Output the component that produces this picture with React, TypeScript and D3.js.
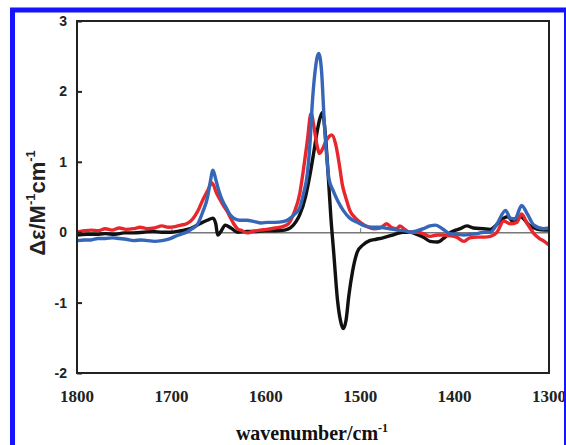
import React, { useEffect, useRef } from "react";
import * as d3 from "d3";

// wavenumber (cm-1) and delta epsilon values
const blackWave = [1800, 1790, 1780, 1770, 1760, 1750, 1740, 1730, 1720, 1710, 1700, 1690, 1680, 1670, 1662, 1656, 1653, 1651, 1648, 1643, 1637, 1630, 1620, 1610, 1600, 1590, 1580, 1574, 1568, 1564, 1558, 1553, 1549, 1546, 1543, 1540, 1537, 1534, 1531, 1528, 1524, 1521, 1518, 1515, 1512, 1508, 1503, 1497, 1490, 1483, 1476, 1468, 1461, 1455, 1447, 1440, 1433, 1426, 1418, 1411, 1404, 1394, 1387, 1380, 1370, 1362, 1356, 1351, 1344, 1337, 1330, 1321, 1312, 1305, 1300];
const blackVal = [-0.04, -0.03, -0.03, -0.02, -0.03, -0.01, -0.01, 0.0, 0.01, 0.0, 0.0, 0.02, 0.05, 0.12, 0.17, 0.2, 0.12, -0.04, 0.0, 0.1, 0.06, 0.0, 0.01, 0.01, 0.02, 0.02, 0.03, 0.06, 0.15, 0.25, 0.5, 0.83, 1.15, 1.4, 1.6, 1.7, 1.4, 0.83, 0.2, -0.3, -0.97, -1.25, -1.37, -1.25, -0.9, -0.55, -0.28, -0.18, -0.12, -0.1, -0.08, -0.05, -0.02, 0.0, 0.0, -0.03, -0.07, -0.13, -0.14, -0.08, 0.0, 0.05, 0.09, 0.06, 0.05, 0.04, 0.1, 0.17, 0.22, 0.14, 0.22, 0.1, 0.04, 0.03, 0.03];

const redWave = [1800, 1792, 1785, 1778, 1770, 1763, 1755, 1748, 1740, 1733, 1726, 1718, 1710, 1703, 1696, 1690, 1684, 1678, 1672, 1667, 1662, 1657, 1652, 1648, 1645, 1641, 1638, 1634, 1630, 1625, 1620, 1614, 1606, 1599, 1590, 1582, 1576, 1570, 1564, 1560, 1556, 1552, 1549, 1546, 1543, 1540, 1536, 1530, 1526, 1522, 1519, 1515, 1511, 1505, 1500, 1493, 1486, 1479, 1472, 1466, 1461, 1458, 1452, 1447, 1440, 1433, 1426, 1418, 1412, 1405, 1398, 1390, 1384, 1376, 1368, 1362, 1355, 1348, 1341, 1334, 1329, 1323, 1316, 1310, 1305, 1300];
const redVal = [0.0, 0.02, 0.03, 0.02, 0.05, 0.03, 0.06, 0.04, 0.05, 0.07, 0.05, 0.06, 0.09, 0.07, 0.08, 0.1, 0.12, 0.18, 0.3, 0.45, 0.58, 0.7, 0.55, 0.45, 0.38, 0.3, 0.22, 0.12, 0.05, 0.02, -0.01, 0.01, 0.03, 0.04, 0.06, 0.08, 0.12, 0.28, 0.55, 0.9, 1.3, 1.69, 1.5, 1.25, 1.12, 1.18, 1.3, 1.38, 1.25, 0.95, 0.68, 0.48, 0.31, 0.2, 0.14, 0.08, 0.05, 0.06, 0.12, 0.06, 0.05, 0.09, 0.03, 0.0, 0.0, -0.02, -0.06, -0.04, -0.04, -0.05, -0.07, -0.13, -0.08, -0.07, -0.07, -0.06, 0.0, 0.16, 0.12, 0.14, 0.26, 0.12, -0.02, -0.09, -0.13, -0.18];

const blueWave = [1800, 1792, 1785, 1778, 1770, 1762, 1755, 1748, 1740, 1732, 1725, 1718, 1710, 1703, 1696, 1690, 1684, 1678, 1672, 1667, 1662, 1659, 1656, 1653, 1650, 1646, 1642, 1638, 1634, 1628, 1620, 1612, 1605, 1598, 1590, 1582, 1576, 1570, 1564, 1560, 1556, 1553, 1551, 1548, 1544, 1541, 1538, 1535, 1533, 1529, 1524, 1518, 1511, 1503, 1495, 1488, 1479, 1470, 1461, 1452, 1447, 1440, 1433, 1426, 1420, 1413, 1405, 1397, 1390, 1383, 1376, 1369, 1362, 1355, 1346, 1341, 1336, 1329, 1323, 1316, 1306, 1300];
const blueVal = [-0.12, -0.11, -0.11, -0.09, -0.09, -0.08, -0.09, -0.1, -0.12, -0.11, -0.12, -0.13, -0.12, -0.1, -0.06, -0.03, 0.0, 0.05, 0.12, 0.28, 0.48, 0.7, 0.88, 0.75, 0.6, 0.45, 0.35, 0.25, 0.2, 0.17, 0.17, 0.15, 0.13, 0.14, 0.14, 0.15, 0.18, 0.25, 0.35, 0.55, 0.83, 1.3, 1.78, 2.26, 2.54, 2.3, 1.55, 1.0, 0.75, 0.6, 0.45, 0.31, 0.2, 0.14, 0.09, 0.07, 0.07, 0.05, 0.03, 0.02, 0.0, 0.02, 0.05, 0.09, 0.1, 0.05, -0.02, -0.03, -0.04, -0.03, -0.02, 0.0, 0.0, 0.12, 0.31, 0.2, 0.19, 0.38, 0.26, 0.1, 0.05, 0.06];

const xTicks = [1800, 1700, 1600, 1500, 1400, 1300];
const yTicks = [3, 2, 1, 0, -1, -2];

const series = [
  { name: "black", wave: blackWave, val: blackVal, color: "#111111" },
  { name: "red", wave: redWave, val: redVal, color: "#e8272d" },
  { name: "blue", wave: blueWave, val: blueVal, color: "#3566b8" },
];

const serif = "'Liberation Serif', 'Times New Roman', serif";
const sans = "'Liberation Sans', Arial, sans-serif";

export default function App() {
  const ref = useRef<SVGSVGElement>(null);

  useEffect(() => {
    const svg = d3.select(ref.current);
    svg.selectAll("*").remove();

    const left = 77, right = 549, top = 21, bottom = 373;

    const x = d3.scaleLinear().domain([1800, 1300]).range([left, right]);
    const y = d3.scaleLinear().domain([-2, 3]).range([bottom, top]);

    // zero line with small x ticks
    const zero = svg.append("g").attr("transform", `translate(0, ${y(0)})`);
    zero
      .call(d3.axisBottom(x).tickValues(xTicks).tickSize(-4).tickSizeOuter(0).tickFormat(() => ""))
      .call((g) => g.select(".domain").attr("stroke", "#777").attr("stroke-width", 1.5));
    zero.selectAll(".tick line").attr("stroke", "#777");

    // spectra
    const line = d3
      .line<[number, number]>()
      .x((d) => x(d[0]))
      .y((d) => y(d[1]))
      .curve(d3.curveMonotoneX);

    series.forEach((s) => {
      const pts = s.wave.map((w, i) => [w, s.val[i]] as [number, number]);
      svg
        .append("path")
        .attr("d", line(pts))
        .attr("fill", "none")
        .attr("stroke", s.color)
        .attr("stroke-width", 3.4)
        .attr("stroke-linejoin", "round");
    });

    // frame
    svg
      .append("rect")
      .attr("x", left)
      .attr("y", top)
      .attr("width", right - left)
      .attr("height", bottom - top)
      .attr("fill", "none")
      .attr("stroke", "#222")
      .attr("stroke-width", 2);

    // y ticks (inside) and labels
    const yAxis = svg.append("g").attr("transform", `translate(${left}, 0)`);
    yAxis.call(d3.axisLeft(y).tickValues(yTicks).tickSize(-5).tickFormat(() => ""));
    yAxis.select(".domain").remove();
    yAxis.selectAll(".tick line").attr("stroke", "#222").attr("stroke-width", 2);

    svg
      .selectAll(".ylab")
      .data(yTicks)
      .join("text")
      .attr("class", "ylab")
      .attr("x", 67)
      .attr("y", (d) => y(d) + 5)
      .attr("text-anchor", "end")
      .style("font-family", sans)
      .style("font-weight", "bold")
      .style("font-size", "14px")
      .attr("fill", "#222")
      .text((d) => String(d));

    svg
      .selectAll(".xlab")
      .data(xTicks)
      .join("text")
      .attr("class", "xlab")
      .attr("x", (d) => x(d))
      .attr("y", 402)
      .attr("text-anchor", "middle")
      .style("font-family", serif)
      .style("font-weight", "bold")
      .style("font-size", "17px")
      .attr("fill", "#222")
      .text((d) => String(d));

    // x title
    const xt = svg
      .append("text")
      .attr("x", 312)
      .attr("y", 440)
      .attr("text-anchor", "middle")
      .style("font-family", serif)
      .style("font-weight", "bold")
      .style("font-size", "20px")
      .attr("fill", "#111");
    xt.append("tspan").text("wavenumber/cm");
    xt.append("tspan").attr("dy", -8).style("font-size", "12px").text("-1");

    // y title
    const yt = svg
      .append("text")
      .attr("transform", "translate(45, 203) rotate(-90)")
      .attr("text-anchor", "middle")
      .style("font-family", sans)
      .style("font-weight", "bold")
      .style("font-size", "22px")
      .attr("fill", "#222");
    yt.append("tspan").text("\u0394\u03b5/M");
    yt.append("tspan").attr("dy", -10).style("font-size", "13px").text("-1");
    yt.append("tspan").attr("dy", 10).text("cm");
    yt.append("tspan").attr("dy", -10).style("font-size", "13px").text("-1");

    // blue outer border
    svg
      .append("rect")
      .attr("x", 12.5)
      .attr("y", 10)
      .attr("width", 554)
      .attr("height", 445)
      .attr("fill", "none")
      .attr("stroke", "#1414ff")
      .attr("stroke-width", 5);
  }, []);

  return (
    <svg
      ref={ref}
      width={566}
      height={445}
      style={{ position: "absolute", left: 0, top: 0, background: "#fff" }}
    />
  );
}
